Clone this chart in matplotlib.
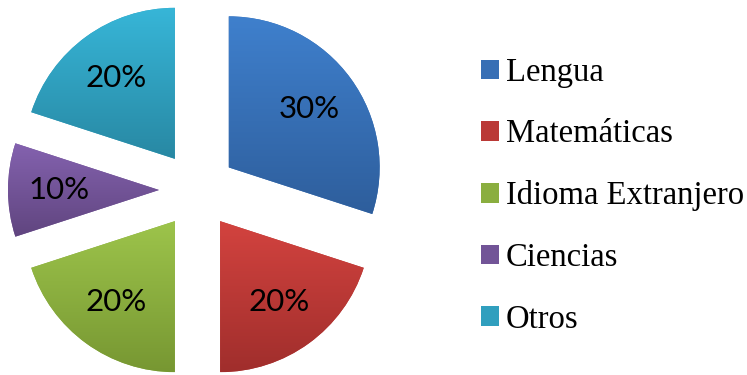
import numpy as np
import matplotlib
matplotlib.use('Agg')
import matplotlib.pyplot as plt
from matplotlib.colors import LinearSegmentedColormap, to_rgb

labels = ['Lengua', 'Matemáticas', 'Idioma Extranjero', 'Ciencias', 'Otros']
values = [30, 20, 20, 10, 20]
top_colors = ['#3F80CD', '#D3433F', '#9DC44B', '#8462AF', '#37B6D8']
bottom_colors = ['#2E5E9C', '#A02E2C', '#779732', '#60457F', '#2888A3']

W, H = 747, 375
fig = plt.figure(figsize=(W / 100, H / 100), dpi=100)
ax = fig.add_axes([0, 0, 1, 1])

# pie centre and radius in pixels
cx, cy, r = 197.5, 190, 151

mid_colors = [tuple((np.array(to_rgb(a)) + np.array(to_rgb(b))) / 2)
              for a, b in zip(top_colors, bottom_colors)]

wedges, texts, autotexts = ax.pie(
    values, explode=[0.255] * len(values), startangle=90, counterclock=False,
    colors=mid_colors, autopct=lambda p: f'{p:.0f}%', pctdistance=0.66,
    wedgeprops=dict(linewidth=0),
    textprops=dict(fontsize=22.5, family=['Lato', 'DejaVu Sans'], color='black'))

# vertical gradient inside every slice
grad = np.linspace(0, 1, 256).reshape(-1, 1)
for w, c1, c2 in zip(wedges, top_colors, bottom_colors):
    cmap = LinearSegmentedColormap.from_list('g', [c1, c2])
    bb = w.get_path().get_extents()
    im = ax.imshow(grad, cmap=cmap, extent=(bb.x0, bb.x1, bb.y0, bb.y1),
                   origin='upper', aspect='auto', zorder=w.get_zorder() + 0.1,
                   interpolation='bilinear')
    im.set_clip_path(w)
for t in autotexts:
    t.set_zorder(5)

ax.set_xlim(-cx / r, (W - cx) / r)
ax.set_ylim(-(H - cy) / r, cy / r)
ax.set_aspect('equal')
ax.axis('off')

fig.legend(wedges, labels, loc='center left', bbox_to_anchor=(481 / W, 1 - 196 / H),
           frameon=False, borderpad=0, borderaxespad=0,
           handlelength=0.56, handleheight=0.56, handletextpad=0.2,
           labelspacing=0.95,
           prop=dict(family=['Liberation Serif', 'DejaVu Serif'], size=23.5))

fig.savefig('out.png', dpi=100)
